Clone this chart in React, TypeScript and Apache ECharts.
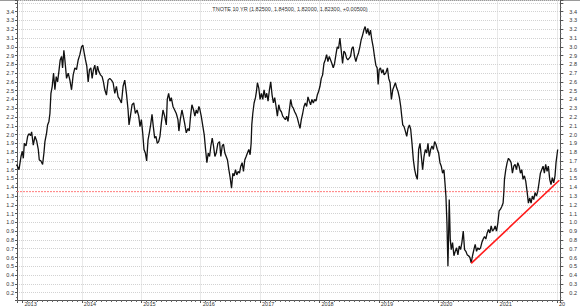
import React, { useEffect, useRef } from "react";
import * as echarts from "echarts";

const chartTitle = "TNOTE 10 YR (1.82500, 1.84500, 1.82000, 1.82300, +0.00500)";
const xTickLabels = ["2013", "2014", "2015", "2016", "2017", "2018", "2019", "2020", "2021", "20"];
const firstLabelYear = 2013;

// decimal-year dates of the 10-year note yield readings
const dates2013to2015 = [
  2012.902, 2012.941, 2012.975, 2012.997, 2013.014, 2013.031, 2013.059, 2013.087, 2013.109, 2013.137,
  2013.154, 2013.182, 2013.21, 2013.238, 2013.266, 2013.283, 2013.311, 2013.339, 2013.361, 2013.378,
  2013.406, 2013.423, 2013.445, 2013.462, 2013.479, 2013.501, 2013.523, 2013.546, 2013.568, 2013.591,
  2013.613, 2013.635, 2013.658, 2013.675, 2013.697, 2013.714, 2013.742, 2013.77, 2013.798, 2013.826,
  2013.854, 2013.882, 2013.91, 2013.938, 2013.966, 2013.994, 2014.016, 2014.039, 2014.061, 2014.083,
  2014.106, 2014.128, 2014.151, 2014.173, 2014.195, 2014.218, 2014.24, 2014.263, 2014.285, 2014.313,
  2014.341, 2014.363, 2014.386, 2014.414, 2014.442, 2014.47, 2014.498, 2014.526, 2014.554, 2014.582,
  2014.61, 2014.638, 2014.666, 2014.694, 2014.722, 2014.75, 2014.778, 2014.794, 2014.817, 2014.845,
  2014.873, 2014.901, 2014.929, 2014.957, 2014.979, 2015.002, 2015.024, 2015.046, 2015.069, 2015.091,
  2015.114, 2015.136, 2015.158, 2015.181, 2015.203, 2015.226, 2015.248, 2015.27, 2015.293, 2015.315,
  2015.338, 2015.366, 2015.394, 2015.422, 2015.438, 2015.461, 2015.483, 2015.506, 2015.534, 2015.562,
  2015.59, 2015.618, 2015.634, 2015.657, 2015.685, 2015.707, 2015.73, 2015.758, 2015.786, 2015.808,
  2015.83, 2015.853, 2015.881, 2015.903, 2015.926, 2015.948, 2015.97,
];
const yields2013to2015 = [
  1.66, 1.6, 1.75, 1.81, 1.73, 1.9, 1.87, 1.98, 2.01, 1.99,
  2.03, 1.88, 1.98, 1.93, 1.83, 1.71, 1.7, 1.66, 1.79, 1.92,
  2.02, 2.11, 2.15, 2.24, 2.47, 2.55, 2.7, 2.51, 2.66, 2.6,
  2.72, 2.85, 2.89, 2.76, 2.96, 2.85, 2.64, 2.7, 2.62, 2.51,
  2.68, 2.76, 2.74, 2.85, 2.91, 3.0, 3.02, 2.93, 2.85, 2.78,
  2.6, 2.74, 2.76, 2.64, 2.74, 2.79, 2.68, 2.78, 2.72, 2.68,
  2.66, 2.6, 2.51, 2.45, 2.62, 2.64, 2.62, 2.59, 2.47, 2.55,
  2.43, 2.4, 2.36, 2.55, 2.62, 2.47, 2.28, 2.11, 2.21, 2.34,
  2.36, 2.24, 2.28, 2.21, 2.09, 2.17, 2.02, 1.83, 1.79, 1.7,
  1.94, 2.02, 2.11, 2.23, 2.09, 1.96, 1.98, 1.9, 1.92, 1.98,
  2.13, 2.28, 2.21, 2.11, 2.4, 2.47, 2.38, 2.42, 2.32, 2.28,
  2.24, 2.17, 2.04, 2.17, 2.28, 2.21, 2.13, 2.02, 2.07, 2.04,
  2.21, 2.34, 2.28, 2.21, 2.28, 2.24, 2.32,
];

const dates2016to2018 = [
  2015.982, 2016.01, 2016.038, 2016.06, 2016.083, 2016.105, 2016.128, 2016.15, 2016.172, 2016.195,
  2016.217, 2016.24, 2016.262, 2016.29, 2016.318, 2016.34, 2016.363, 2016.385, 2016.408, 2016.43,
  2016.452, 2016.475, 2016.497, 2016.52, 2016.542, 2016.564, 2016.587, 2016.609, 2016.631, 2016.654,
  2016.676, 2016.699, 2016.721, 2016.743, 2016.766, 2016.788, 2016.811, 2016.833, 2016.85, 2016.861,
  2016.878, 2016.9, 2016.923, 2016.939, 2016.956, 2016.979, 2017.001, 2017.023, 2017.046, 2017.068,
  2017.091, 2017.113, 2017.135, 2017.158, 2017.18, 2017.203, 2017.225, 2017.247, 2017.27, 2017.292,
  2017.315, 2017.337, 2017.359, 2017.382, 2017.404, 2017.427, 2017.449, 2017.471, 2017.494, 2017.516,
  2017.539, 2017.561, 2017.583, 2017.606, 2017.628, 2017.65, 2017.673, 2017.695, 2017.718, 2017.74,
  2017.762, 2017.785, 2017.807, 2017.83, 2017.852, 2017.874, 2017.897, 2017.919, 2017.942, 2017.964,
  2017.986, 2018.009, 2018.031, 2018.054, 2018.076, 2018.098, 2018.121, 2018.143, 2018.166, 2018.188,
  2018.21, 2018.233, 2018.255, 2018.278, 2018.3, 2018.322, 2018.345, 2018.367, 2018.39, 2018.412,
  2018.434, 2018.457, 2018.479, 2018.502, 2018.524, 2018.546, 2018.569, 2018.591, 2018.614, 2018.636,
  2018.658, 2018.681, 2018.703, 2018.726, 2018.748, 2018.77, 2018.793, 2018.815, 2018.838, 2018.86,
  2018.882, 2018.905, 2018.927, 2018.95, 2018.972, 2018.989, 2019.006, 2019.028, 2019.05, 2019.073,
];
const yields2016to2018 = [
  2.3, 2.21, 2.09, 2.0, 1.83, 1.68, 1.79, 1.75, 1.87, 1.96,
  1.87, 1.75, 1.79, 1.9, 1.92, 1.75, 1.87, 1.89, 1.79, 1.75,
  1.71, 1.6, 1.51, 1.39, 1.56, 1.53, 1.6, 1.54, 1.58, 1.56,
  1.64, 1.68, 1.58, 1.71, 1.75, 1.79, 1.83, 1.77, 1.9, 2.11,
  2.24, 2.36, 2.42, 2.49, 2.59, 2.53, 2.4, 2.47, 2.4, 2.51,
  2.42, 2.47, 2.38, 2.51, 2.6, 2.45, 2.36, 2.42, 2.32, 2.21,
  2.34, 2.28, 2.26, 2.21, 2.19, 2.17, 2.21, 2.15, 2.28, 2.4,
  2.32, 2.3, 2.26, 2.23, 2.19, 2.13, 2.07, 2.17, 2.24, 2.32,
  2.36, 2.32, 2.43, 2.38, 2.34, 2.4, 2.36, 2.4, 2.38, 2.45,
  2.49, 2.55, 2.64, 2.68, 2.81, 2.85, 2.91, 2.83, 2.89, 2.85,
  2.81, 2.76, 2.81, 2.91, 3.0, 2.98, 3.1, 2.96, 2.81, 2.95,
  2.93, 2.87, 2.85, 2.87, 2.89, 2.98, 3.0, 2.89, 2.83, 2.89,
  2.93, 3.0, 3.08, 3.13, 3.19, 3.23, 3.15, 3.21, 3.13, 3.19,
  3.08, 3.0, 2.89, 2.79, 2.76, 2.57, 2.74, 2.76, 2.7, 2.74,
];

const dates2019to2021 = [
  2019.089, 2019.117, 2019.145, 2019.167, 2019.19, 2019.212, 2019.235, 2019.257, 2019.279, 2019.302,
  2019.324, 2019.347, 2019.369, 2019.386, 2019.403, 2019.425, 2019.447, 2019.47, 2019.492, 2019.515,
  2019.537, 2019.559, 2019.582, 2019.604, 2019.627, 2019.649, 2019.671, 2019.694, 2019.716, 2019.738,
  2019.761, 2019.783, 2019.806, 2019.828, 2019.85, 2019.873, 2019.895, 2019.918, 2019.94, 2019.962,
  2019.985, 2020.007, 2020.03, 2020.052, 2020.074, 2020.097, 2020.114, 2020.13, 2020.147, 2020.164,
  2020.175, 2020.186, 2020.203, 2020.22, 2020.242, 2020.265, 2020.287, 2020.31, 2020.332, 2020.354,
  2020.377, 2020.399, 2020.422, 2020.444, 2020.466, 2020.489, 2020.511, 2020.534, 2020.556, 2020.578,
  2020.601, 2020.623, 2020.646, 2020.668, 2020.69, 2020.713, 2020.735, 2020.758, 2020.78, 2020.802,
  2020.825, 2020.847, 2020.87, 2020.892, 2020.914, 2020.937, 2020.959, 2020.982, 2021.004, 2021.026,
  2021.049, 2021.071, 2021.093, 2021.105, 2021.116, 2021.138, 2021.161, 2021.183, 2021.206, 2021.228,
  2021.25, 2021.273, 2021.295, 2021.318, 2021.34, 2021.362, 2021.385, 2021.407, 2021.429, 2021.452,
  2021.474, 2021.497, 2021.519, 2021.542, 2021.564, 2021.586, 2021.609, 2021.631, 2021.654, 2021.676,
  2021.698, 2021.721, 2021.743, 2021.766, 2021.788, 2021.81, 2021.833, 2021.855, 2021.878, 2021.9,
  2021.922, 2021.945, 2021.967, 2021.984, 2022.001, 2022.012,
];
const yields2019to2021 = [
  2.68, 2.7, 2.76, 2.64, 2.59, 2.4, 2.51, 2.55, 2.59, 2.53,
  2.49, 2.42, 2.32, 2.21, 2.11, 2.09, 2.04, 1.98, 2.07, 2.11,
  2.06, 1.9, 1.71, 1.6, 1.53, 1.49, 1.83, 1.9, 1.75, 1.6,
  1.75, 1.83, 1.79, 1.9, 1.75, 1.83, 1.87, 1.83, 1.92, 1.89,
  1.83, 1.79, 1.68, 1.64, 1.56, 1.6, 1.45, 1.3, 1.0, 0.5,
  0.84, 1.26, 0.81, 0.69, 0.77, 0.62, 0.67, 0.71, 0.63, 0.73,
  0.69, 0.77, 0.9, 0.69, 0.67, 0.63, 0.62, 0.6, 0.54, 0.62,
  0.69, 0.75, 0.67, 0.71, 0.69, 0.71, 0.77, 0.81, 0.84, 0.81,
  0.88, 0.92, 0.88, 0.96, 0.9, 0.92, 0.96, 0.9, 0.99, 1.13,
  1.15, 1.18, 1.22, 1.34, 1.49, 1.6, 1.68, 1.73, 1.71, 1.68,
  1.56, 1.64, 1.66, 1.6, 1.68, 1.64, 1.56, 1.6, 1.49, 1.53,
  1.47, 1.35, 1.22, 1.28, 1.22, 1.3, 1.26, 1.34, 1.3, 1.35,
  1.45, 1.56, 1.6, 1.64, 1.56, 1.66, 1.58, 1.64, 1.49, 1.43,
  1.51, 1.45, 1.53, 1.68, 1.77, 1.83,
];

// red rising trend line and dotted support level
const trendDates = [2020.556, 2022.04];
const trendValues = [0.533, 1.48];
const supportLevel = 1.35;

const xMin = 2012.9076;
const xMax = 2022.057;
const yMin = 0.116;
const yMax = 3.527;

const FONT = "'Liberation Sans', Arial, sans-serif";

export default function App() {
  const ref = useRef<HTMLDivElement>(null);

  useEffect(() => {
    if (!ref.current) return;
    const chart = echarts.init(ref.current, null, { renderer: "svg" });

    const allDates = [...dates2013to2015, ...dates2016to2018, ...dates2019to2021];
    const allYields = [...yields2013to2015, ...yields2016to2018, ...yields2019to2021];
    const priceData = allDates.map((d, i) => [d, allYields[i]]);
    const trendData = trendDates.map((d, i) => [d, trendValues[i]]);
    const supportData = [
      [xMin, supportLevel],
      [xMax, supportLevel],
    ];

    const xFormatter = (v: number) => {
      const r = Math.round(v);
      if (Math.abs(v - r) > 1e-6) return "";
      const label = xTickLabels[r - firstLabelYear];
      return label ?? "";
    };
    const yFormatter = (v: number) => {
      if (v < 0.15 || v > 3.45) return "";
      return v.toFixed(1);
    };

    const gridLine = { show: true, lineStyle: { type: "dotted", color: "#d2d2d2", width: 1 } };

    const yAxisCommon = {
      type: "value",
      min: yMin,
      max: yMax,
      splitNumber: 34,
      axisLine: { show: true, lineStyle: { color: "#555", width: 1 } },
      axisTick: { show: true, length: 2, lineStyle: { color: "#555" } },
      minorTick: { show: true, splitNumber: 2, length: 1, lineStyle: { color: "#777" } },
    };

    const option: any = {
      animation: false,
      backgroundColor: "#ffffff",
      title: {
        text: chartTitle,
        left: "center",
        top: 1,
        textStyle: { fontSize: 5.5, fontWeight: "normal", color: "#333", fontFamily: FONT },
      },
      graphic: [
        {
          type: "line",
          shape: { x1: 0, y1: 0.5, x2: 580, y2: 0.5 },
          style: { stroke: "#9a9a9a", lineWidth: 1 },
          silent: true,
        },
      ],
      grid: { left: 17, right: 18.3, top: 0.5, bottom: 6.3, containLabel: false },
      xAxis: {
        type: "value",
        min: xMin,
        max: xMax,
        splitNumber: 9,
        axisLine: { show: true, onZero: false, lineStyle: { color: "#555", width: 1 } },
        axisTick: { show: true, length: 3, lineStyle: { color: "#555" } },
        minorTick: { show: true, splitNumber: 12, length: 2, lineStyle: { color: "#666" } },
        axisLabel: {
          formatter: xFormatter,
          fontSize: 5.5,
          color: "#333",
          fontFamily: FONT,
          align: "left",
          margin: 1,
          padding: [0, 0, 0, 2],
          showMinLabel: false,
        },
        splitLine: gridLine,
      },
      yAxis: [
        {
          ...yAxisCommon,
          position: "left",
          axisLabel: {
            formatter: yFormatter,
            fontSize: 5.5,
            color: "#333",
            fontFamily: FONT,
            margin: 3,
            showMinLabel: false,
            showMaxLabel: false,
          },
          splitLine: gridLine,
        },
        {
          ...yAxisCommon,
          position: "right",
          axisTick: { show: true, length: 3, lineStyle: { color: "#555" } },
          axisLabel: {
            formatter: yFormatter,
            fontSize: 5.5,
            color: "#333",
            fontFamily: FONT,
            margin: 9,
            showMinLabel: false,
            showMaxLabel: false,
          },
          splitLine: { show: false },
        },
      ],
      series: [
        {
          type: "line",
          name: "support",
          data: supportData,
          xAxisIndex: 0,
          yAxisIndex: 0,
          symbol: "none",
          silent: true,
          z: 2,
          itemStyle: { color: "#ff7a7a" },
          lineStyle: { color: "#ff7a7a", type: [2, 1], width: 1 },
        },
        {
          type: "line",
          name: "TNOTE 10 YR",
          data: priceData,
          xAxisIndex: 0,
          yAxisIndex: 0,
          symbol: "none",
          itemStyle: { color: "#111" },
          lineStyle: { color: "#111", width: 1.3 },
          silent: true,
          z: 3,
        },
        {
          type: "line",
          name: "trend",
          data: trendData,
          xAxisIndex: 0,
          yAxisIndex: 0,
          symbol: "none",
          itemStyle: { color: "#ff1a1a" },
          lineStyle: { color: "#ff1a1a", width: 1.6 },
          silent: true,
          z: 4,
        },
      ],
    };

    chart.setOption(option);
    return () => {
      chart.dispose();
    };
  }, []);

  return (
    <div
      ref={ref}
      style={{ position: "fixed", left: 0, top: 0, width: 580, height: 307, background: "#fff" }}
    />
  );
}
